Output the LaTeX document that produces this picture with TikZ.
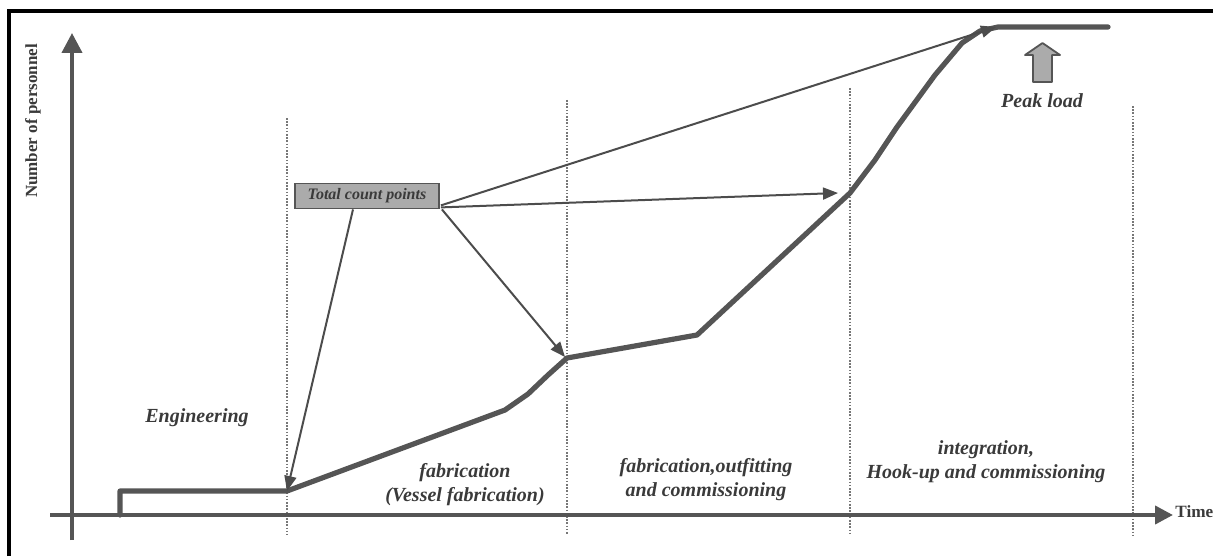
\documentclass[tikz,border=0pt]{standalone}
\usepackage{fontspec}
\setmainfont{Liberation Serif}
\usetikzlibrary{arrows.meta,calc}
\definecolor{ink}{HTML}{555555}
\definecolor{txt}{HTML}{3A3A3A}
\definecolor{shade}{HTML}{ABABAB}
\tikzset{
  frameline/.style={line width=1.6pt,black},
  axisline/.style={line width=2pt,ink},
  phase/.style={line width=0.6pt,ink!80,dash pattern=on 0.8pt off 0.8pt},
  staffing/.style={line width=2.6pt,ink,line join=round,line cap=round},
  pointer/.style={line width=1pt,ink!90!black,-{Triangle[length=7.5pt,width=6pt]}},
  lbl/.style={text=txt,font=\fontsize{10}{12}\selectfont\bfseries\itshape,align=center,inner sep=0pt},
  countbox/.style={draw=ink,line width=0.9pt,fill=shade,minimum width=72pt,minimum height=12.5pt,
    inner sep=0pt,text=txt,font=\fontsize{8}{9}\selectfont\bfseries\itshape}
}
\begin{document}
\begin{tikzpicture}[x=0.5pt,y=-0.5pt]
\useasboundingbox (0,0) rectangle (1213,556);
% frame
\draw[frameline] (9,556) -- (9,11) -- (1213,11);

% phase boundaries
\draw[phase] (287,118) -- (287,535);
\draw[phase] (567,100) -- (567,535);
\draw[phase] (850,88) -- (850,535);
\draw[phase] (1133,106) -- (1133,535);

% axes
\coordinate (yb) at (72,540);
\coordinate (yt) at (72,33);
\coordinate (xl) at (50,515);
\coordinate (xr) at (1173,515);
\draw[axisline,-{Triangle[length=10pt,width=10pt]}] (yb) -- (yt);
\draw[axisline,-{Triangle[length=9pt,width=9pt]}] (xl) -- (xr);
\node[rotate=90,text=txt,font=\fontsize{8.5}{10}\selectfont\bfseries,inner sep=0pt] (ylab) at (33,121) {Number of personnel};
\node[anchor=west,text=txt,font=\fontsize{8.6}{10}\selectfont\bfseries,inner sep=0pt] (xlab) at (1175,512) {Time};

% staffing curve
\coordinate (s0) at (120,515);
\coordinate (s1) at (120,491);
\coordinate (c1) at (287,491);
\coordinate (c2) at (567,358);
\coordinate (c3) at (850,193);
\coordinate (c4) at (998,27);
\coordinate (s9) at (1108,27);
\draw[staffing] (s0) -- (s1) -- (c1) -- (505,410) -- (528,394) -- (548,375) -- (c2)
  -- (697,335) -- (c3) -- (875,160) -- (897,127) -- (935,75) -- (962,43) -- (980,31) -- (c4) -- (s9);

% count box and pointers
\node[countbox] (tcp) at (367,196) {Total count points};
\draw[pointer] ($(tcp.south)+(-14,0)$) -- (c1);
\draw[pointer] ($(tcp.south east)+(2,0)$) -- ($(c2)+(-2,-1)$);
\draw[pointer] ($(tcp.south east)+(1,-2)$) -- ($(c3)+(-12,0)$);
\draw[pointer] ($(tcp.south east)+(1,-4)$) -- ($(c4)+(-2,0)$);

% peak load marker
\draw[ink,line width=0.9pt,fill=shade,line join=round]
  (1033,82) -- (1033,55) -- (1025,55) -- (1042.5,43) -- (1060,55) -- (1052,55) -- (1052,82) -- cycle;
\node[lbl] (peak) at (1042,101) {Peak load};

% phase labels
\node[lbl] (eng) at (197,418) {Engineering};
\node[lbl] (fab) at (465,485) {fabrication\\(Vessel fabrication)};
\node[lbl] (out) at (706,480) {fabrication,outfitting\\and commissioning};
\node[lbl] (hook) at (986,462) {integration,\\Hook-up and commissioning};
\end{tikzpicture}
\end{document}
